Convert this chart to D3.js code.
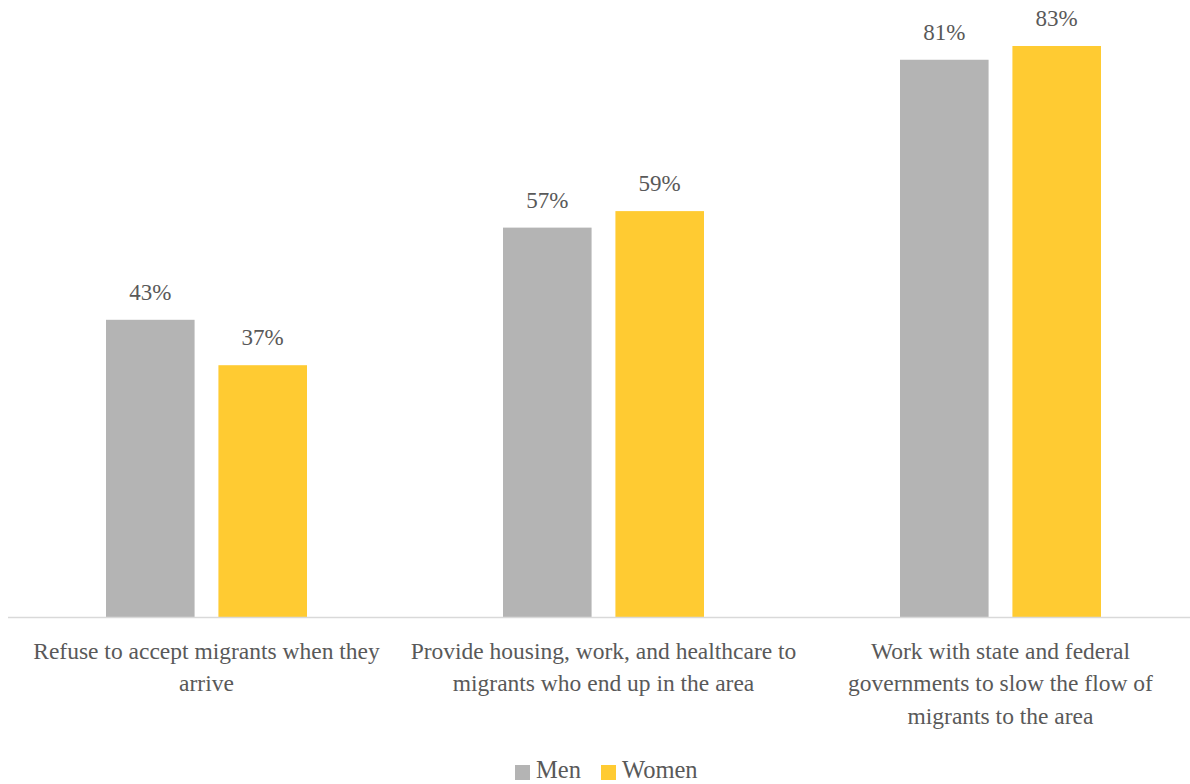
<!DOCTYPE html>
<html>
<head>
<meta charset="utf-8">
<script src="https://cdn.jsdelivr.net/npm/d3@7"></script>
<style>
  html, body { margin: 0; padding: 0; background: #fff; }
  svg { display: block; }
  text { font-family: "Liberation Serif", "DejaVu Serif", serif; fill: #595959; }
</style>
</head>
<body>
<svg id="chart" width="1190" height="784"></svg>
<script>
const categories = [
  ["Refuse to accept migrants when they", "arrive"],
  ["Provide housing, work, and healthcare to", "migrants who end up in the area"],
  ["Work with state and federal", "governments to slow the flow of", "migrants to the area"]
];
const seriesNames = ["Men", "Women"];
const men = [43.2, 56.6, 81];
const women = [36.6, 59, 83];
const colors = ["#B4B4B4", "#FFCB32"];

const svg = d3.select("#chart");
const left = 8, right = 1199, baseY = 617;

const x0 = d3.scaleBand().domain(d3.range(categories.length)).range([left, right]).paddingInner(0).paddingOuter(0);
const x1 = d3.scaleBand().domain(seriesNames).range([98, 299]).paddingInner(0.212).paddingOuter(0);
const y = d3.scaleLinear().domain([0, 83]).range([baseY, 46]);

const data = categories.map((c, i) => ({ i, values: [men[i], women[i]] }));

const groups = svg.append("g").selectAll("g.grp").data(data).join("g")
  .attr("class", "grp")
  .attr("transform", d => `translate(${x0(d.i)},0)`);

groups.selectAll("rect").data(d => d.values.map((v, k) => ({ v, k })))
  .join("rect")
  .attr("x", d => x1(seriesNames[d.k]))
  .attr("width", x1.bandwidth())
  .attr("y", d => y(d.v))
  .attr("height", d => y(0) - y(d.v))
  .attr("fill", d => colors[d.k]);

groups.selectAll("text.val").data(d => d.values.map((v, k) => ({ v, k })))
  .join("text")
  .attr("class", "val")
  .attr("x", d => x1(seriesNames[d.k]) + x1.bandwidth() / 2)
  .attr("y", d => y(d.v) - 20)
  .attr("text-anchor", "middle")
  .attr("font-size", 23)
  .text(d => Math.round(d.v) + "%");

// axis line
svg.append("line")
  .attr("x1", left).attr("x2", 1190)
  .attr("y1", baseY + 0.5).attr("y2", baseY + 0.5)
  .attr("stroke", "#D9D9D9").attr("stroke-width", 1.5);

// category labels
const labels = svg.selectAll("text.cat").data(categories).join("text")
  .attr("class", "cat")
  .attr("text-anchor", "middle")
  .attr("font-size", 23.5)
  .attr("x", (d, i) => x0(i) + x0.bandwidth() / 2)
  .attr("y", 659);
labels.selectAll("tspan").data(d => d).join("tspan")
  .attr("x", function () { return this.parentNode.getAttribute("x"); })
  .attr("dy", (d, i) => i === 0 ? 0 : 32.3)
  .text(d => d);

// legend
const legend = svg.append("g").attr("transform", "translate(515,0)");
const legX = [0, 86];
seriesNames.forEach((s, k) => {
  legend.append("rect").attr("x", legX[k]).attr("y", 765).attr("width", 15).attr("height", 15).attr("fill", colors[k]);
  legend.append("text").attr("x", legX[k] + 21).attr("y", 778).attr("font-size", 24.5).text(s);
});
</script>
</body>
</html>
